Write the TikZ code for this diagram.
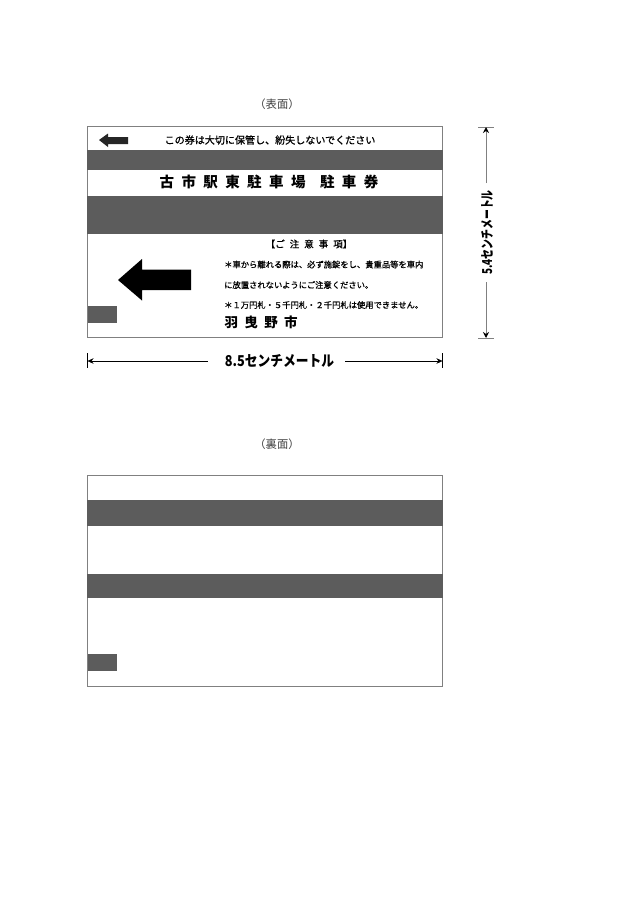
\documentclass[tikz,border=0pt]{standalone}
\usepackage{fontspec}
\setmainfont{Noto Sans CJK JP}
\newfontfamily\jpbold[FakeBold=0.8]{Noto Sans CJK JP}
\usetikzlibrary{arrows.meta}
\definecolor{band}{HTML}{5C5C5C}
\definecolor{edge}{HTML}{808080}
\tikzset{
  x=1pt,y=-1pt,
  cardbox/.style={draw=edge,line width=0.9pt,fill=white},
  bandbox/.style={fill=band,draw=none},
  blockarrow/.style={fill=black,draw=none},
  txt/.style={inner sep=0pt,anchor=center,text=black},
  dimline/.style={draw=black,line width=0.6pt,-{Stealth[length=6pt,width=5.5pt]}},
  dimlinev/.style={draw=edge,line width=1pt,-{Stealth[length=6pt,width=6pt,color=black]}},
  tickh/.style={draw=edge,line width=1pt},
  tickv/.style={draw=black,line width=0.6pt},
}
\begin{document}
\begin{tikzpicture}
\useasboundingbox[fill=white] (0,0) rectangle (630,903);
% front
\node[txt,font=\fontsize{11.3}{13}\selectfont,text=black!75] (lblF) at (277,104.5) {（表面）};
\draw[cardbox] (87,126) rectangle (442.5,337.5);
\fill[bandbox] (87,150) rectangle (442.5,170);
\fill[bandbox] (87,196) rectangle (442.5,234);
\fill[bandbox] (87.5,306) rectangle (117,323);
\fill[blockarrow,fill=black!85] (99,140) -- (108,133.5) -- (108,137) -- (128,137) -- (128,144) -- (108,144) -- (108,147) -- cycle;
\fill[blockarrow] (118,280) -- (142,259) -- (142,269.5) -- (191,269.5) -- (191,290) -- (142,290) -- (142,300.5) -- cycle;
\node[txt,font=\fontsize{10.05}{12}\selectfont\jpbold] (t1) at (270,140) {この券は大切に保管し、紛失しないでください};
\node[txt,font=\fontsize{14.5}{16}\selectfont\bfseries] (t2) at (269,182) {古\hspace{7.4pt}市\hspace{7.4pt}駅\hspace{7.4pt}東\hspace{7.4pt}駐\hspace{7.4pt}車\hspace{7.4pt}場\hspace{14.5pt}駐\hspace{7.4pt}車\hspace{7.4pt}券};
\node[txt,font=\fontsize{9.5}{11}\selectfont\jpbold] (t3) at (309,244) {【ご\hspace{5pt}注\hspace{5pt}意\hspace{5pt}事\hspace{5pt}項】};
\node[txt,anchor=west,font=\fontsize{8.3}{10}\selectfont\jpbold] (t4) at (224,264.5) {＊車から離れる際は、必ず施錠をし、貴重品等を車内};
\node[txt,anchor=west,font=\fontsize{8.3}{10}\selectfont\jpbold] (t5) at (224,285) {に放置されないようにご注意ください。};
\node[txt,anchor=west,font=\fontsize{8.3}{10}\selectfont\jpbold] (t6) at (224,305) {＊１万円札・５千円札・２千円札は使用できません。};
\node[txt,anchor=west,font=\fontsize{13.5}{15}\selectfont\bfseries] (t7) at (224.5,322) {羽\hspace{6.3pt}曳\hspace{6.3pt}野\hspace{6.3pt}市};
% horizontal dimension
\node[txt,font=\fontsize{13}{15}\selectfont\bfseries,minimum width=137pt] (dimH) at (276.5,361) {\hspace{6pt}\scalebox{0.98}[1.15]{8.5センチメートル}};
\coordinate (hL) at (87.5,361);
\coordinate (hR) at (442.5,361);
\draw[tickv] (87.5,353) -- (87.5,368);
\draw[tickv] (442.5,353) -- (442.5,368);
\draw[dimline] (dimH.west) -- (hL);
\draw[dimline] (dimH.east) -- (hR);
% vertical dimension
\node[txt,rotate=90,font=\fontsize{13}{15}\selectfont\bfseries,minimum width=99pt] (dimV) at (487,232.5) {\scalebox{0.76}[1.05]{5.4センチメートル}};
\coordinate (vT) at (486,127);
\coordinate (vB) at (486,338);
\coordinate (vU) at (486,183);
\coordinate (vD) at (486,282);
\draw[tickh] (478,127) -- (494,127);
\draw[tickh] (478,338) -- (494,338);
\draw[dimlinev] (vU) -- (vT);
\draw[dimlinev] (vD) -- (vB);
% back
\node[txt,font=\fontsize{11.3}{13}\selectfont,text=black!75] (lblB) at (277,444.5) {（裏面）};
\draw[cardbox] (87,475) rectangle (442.5,686);
\fill[bandbox] (87,500) rectangle (442.5,526);
\fill[bandbox] (87,574) rectangle (442.5,598);
\fill[bandbox] (87.5,654) rectangle (117,671);
\end{tikzpicture}
\end{document}
